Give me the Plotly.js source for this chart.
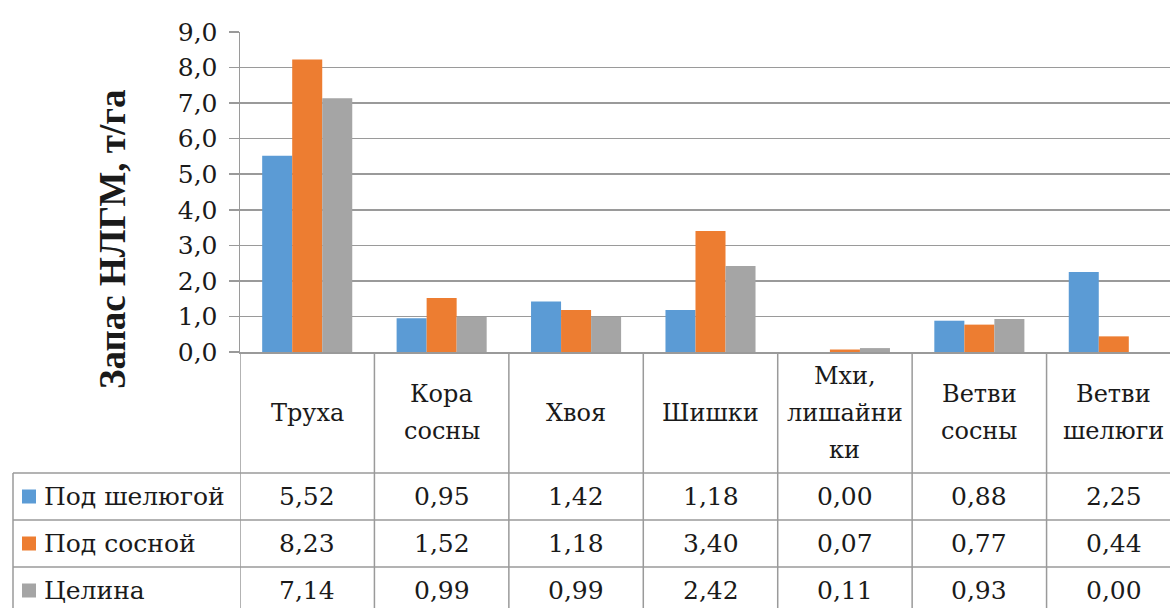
<!DOCTYPE html>
<html><head><meta charset="utf-8">
<script src="https://cdn.plot.ly/plotly-3.0.1.min.js"></script>
<style>html,body{margin:0;padding:0;overflow:hidden;background:#fff}#chart{width:1190px;height:608px}</style>
</head><body><div id="chart"></div>
<script>
const categories = ["Труха","Кора<br>сосны","Хвоя","Шишки","Мхи,<br>лишайни<br>ки","Ветви<br>сосны","Ветви<br>шелюги"];
const seriesNames = ["Под шелюгой","Под сосной","Целина"];
const podShelyugoy = [5.52,0.95,1.42,1.18,0.00,0.88,2.25];
const podSosnoy = [8.23,1.52,1.18,3.40,0.07,0.77,0.44];
const tselina = [7.14,0.99,0.99,2.42,0.11,0.93,0.00];
const colors = ["#5b9bd5","#ed7d31","#a5a5a5"];
const yTitle = "Запас НЛГМ, т/га";

const W = 1190, H = 608, L = 240, T = 32, B = 256, R = 9;
const plotH = H - T - B; // 320
const plotW = W - L - R;
const py = p => (H - B - p) / plotH;     // pixel y -> paper y
const px = p => (p - L) / plotW;         // pixel x -> paper x
const FONT = "'DejaVu Serif', 'Liberation Serif', serif";
const TFONT = "'Liberation Serif', 'Times New Roman', serif";
const TXT = "#1a1a1a";
const LINE = "#9a9a9a";

const allSeries = [podShelyugoy, podSosnoy, tselina];
const xs = categories.map((_, i) => i);
const traces = allSeries.map((vals, k) => ({
  type: "bar", x: xs, y: vals, name: seriesNames[k],
  marker: {color: colors[k]}, hoverinfo: "skip"
}));

const shapes = [];
const annotations = [];
const fmt = v => v.toFixed(2).replace(".", ",");

const headerBottom = 473;
const rowH = 47;
for (let i = 0; i <= categories.length; i++) {
  shapes.push({type:"line", xref:"x", yref:"paper", x0:i-0.5, x1:i-0.5, y0:0, y1:py(H+5), line:{color:LINE,width:1.5}});
}
shapes.push({type:"line", xref:"paper", yref:"paper", x0:px(13), x1:px(13), y0:py(headerBottom), y1:py(H+5), line:{color:LINE,width:1.5}});
for (let r = 0; r < 3; r++) {
  const yy = headerBottom + r*rowH;
  shapes.push({type:"line", xref:"paper", yref:"paper", x0:px(13), x1:1.02, y0:py(yy), y1:py(yy), line:{color:LINE,width:1.5}});
}
const headerCenter = (352 + headerBottom) / 2;
categories.forEach((c, i) => {
  const lines = c.split("<br>");
  const step = 37;
  lines.forEach((ln, j) => {
    const yc = headerCenter + (j - (lines.length-1)/2) * step;
    annotations.push({xref:"x", yref:"paper", x:i, y:py(yc), text:ln, showarrow:false,
      xanchor:"center", yanchor:"middle", font:{family:FONT,size:24,color:TXT}});
  });
});
allSeries.forEach((vals, k) => {
  const yc = headerBottom + k*rowH + rowH/2;
  vals.forEach((v, i) => {
    annotations.push({xref:"x", yref:"paper", x:i, y:py(yc), text:fmt(v), showarrow:false,
      xanchor:"center", yanchor:"middle", font:{family:FONT,size:25,color:TXT}});
  });
  shapes.push({type:"rect", xref:"paper", yref:"paper", x0:px(22), x1:px(36), y0:py(yc-7), y1:py(yc+7), line:{width:0}, fillcolor:colors[k]});
  annotations.push({xref:"paper", yref:"paper", x:px(42), y:py(yc), text:seriesNames[k], showarrow:false,
    xanchor:"left", yanchor:"middle", font:{family:FONT,size:25,color:TXT}});
});
annotations.push({xref:"paper", yref:"paper", x:px(112), y:py(239), text:"<b>"+yTitle+"</b>", textangle:-90, showarrow:false,
  xanchor:"center", yanchor:"middle", font:{family:TFONT,size:37,color:TXT}});

const layout = {
  width: W, height: H,
  margin: {l:L, r:R, t:T, b:B, pad:0},
  paper_bgcolor:"#fff", plot_bgcolor:"#fff",
  separators: ",.",
  showlegend: false,
  barmode: "group", bargap: 0.33, bargroupgap: 0,
  xaxis: {range:[-0.5, categories.length-0.5], showticklabels:false, ticks:"", showgrid:false,
    showline:true, linecolor:LINE, linewidth:1.5, zeroline:false, fixedrange:true},
  yaxis: {range:[0,9], dtick:1, tick0:0, tickformat:".1f", showgrid:true, gridcolor:LINE, gridwidth:1.5,
    showline:true, linecolor:LINE, linewidth:1.5, ticks:"outside", ticklen:10, tickcolor:LINE, tickwidth:1.5,
    ticklabelstandoff:6, zeroline:false, tickfont:{family:FONT,size:25,color:TXT}, fixedrange:true},
  shapes, annotations
};
Plotly.newPlot("chart", traces, layout, {displayModeBar:false, staticPlot:true});
</script></body></html>
